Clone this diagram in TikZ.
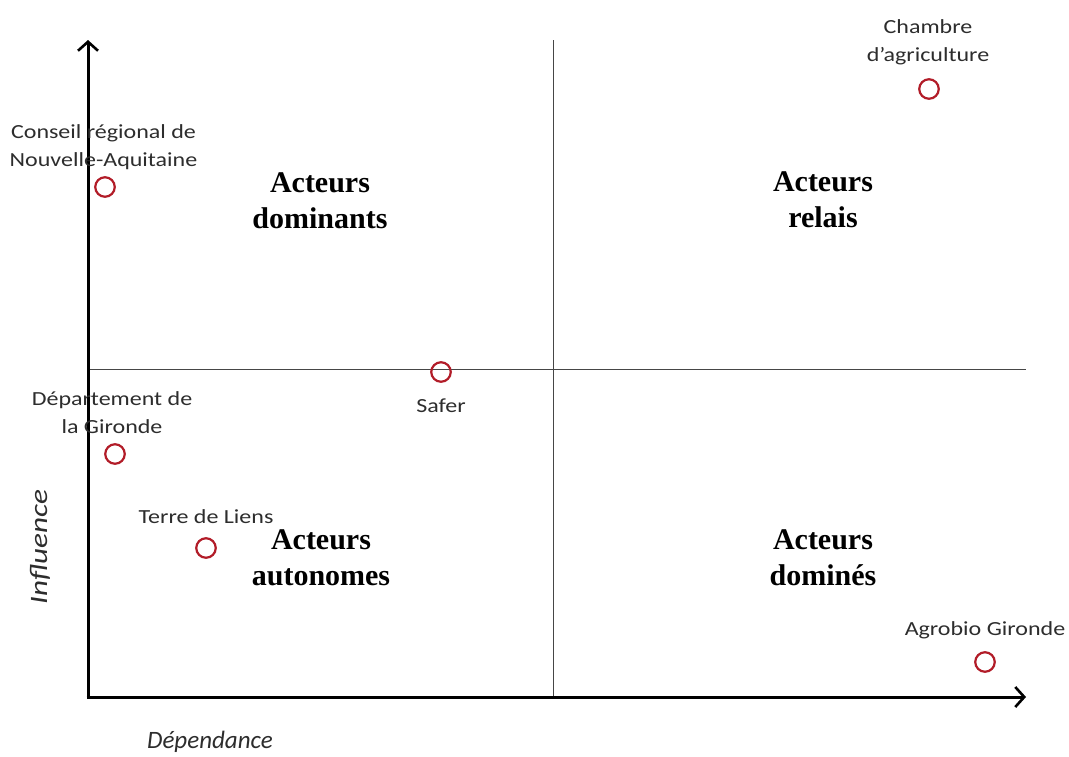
\documentclass[tikz,border=0pt]{standalone}
\usepackage{fontspec}
\setmainfont{Liberation Serif}
\newfontfamily\calfont[FakeStretch=1.2]{Carlito}
\newfontfamily\calaxis{Carlito}
\usetikzlibrary{arrows.meta}
\definecolor{dotred}{RGB}{178,28,40}
\definecolor{lblgray}{RGB}{45,45,45}
\definecolor{quadline}{RGB}{70,70,70}
\begin{document}
\begin{tikzpicture}[x=1pt,y=-1pt,
  axis/.style={line width=3pt,-{Straight Barb[length=9pt,width=20pt,line width=2.6pt]}},
  quad/.style={draw=quadline,line width=1pt},
  dot/.style={circle,draw=dotred,line width=2.2pt,minimum size=19.5pt,inner sep=0pt},
  lbl/.style={font=\calfont\fontsize{20}{28}\selectfont,text=lblgray,align=center,inner sep=0pt,anchor=base},
  big/.style={font=\bfseries\fontsize{30}{35.5}\selectfont,align=center,inner sep=0pt,anchor=base},
  axlbl/.style={font=\calaxis\itshape\fontsize{25}{27}\selectfont,text=lblgray,inner sep=0pt}]
\useasboundingbox (0,0) rectangle (1069,756);
\fill[white] (0,0) rectangle (1069,756);
\coordinate (O) at (88,697);
\coordinate (Ytop) at (88,40);
\coordinate (Xend) at (1026,697);
\coordinate (Vtop) at (553,40);
\coordinate (Vbot) at (553,697);
\coordinate (Hl) at (88,369);
\coordinate (Hr) at (1026,369);
\draw[quad] (Vtop) -- (Vbot);
\draw[quad] (Hl) -- (Hr);
\draw[axis] (88,698.5) -- (Ytop);
\draw[axis] (86.5,697) -- (Xend);
% bold quadrant labels (base = last line)
\node[big] (qdom) at (320,228) {Acteurs\\dominants};
\node[big] (qrel) at (823,227) {Acteurs\\relais};
\node[big] (qaut) at (321,585) {Acteurs\\autonomes};
\node[big] (qdmn) at (823,585) {Acteurs\\dominés};
% actors
\node[dot] (conseil) at (105,187) {};
\node[lbl] (conseilL) at (103.5,166) {Conseil régional de\\Nouvelle-Aquitaine};
\node[dot] (chambre) at (929,89) {};
\node[lbl] (chambreL) at (928,61) {Chambre\\d’agriculture};
\node[dot] (safer) at (441,372) {};
\node[lbl] (saferL) at (441,412) {Safer};
\node[dot] (dept) at (115,454) {};
\node[lbl] (deptL) at (112,433) {Département de\\la Gironde};
\node[dot] (terre) at (206,548) {};
\node[lbl] (terreL) at (206,523) {Terre de Liens};
\node[dot] (agro) at (985,662) {};
\node[lbl] (agroL) at (985,635) {Agrobio Gironde};
% axis labels
\node[axlbl,rotate=90] (infl) at (40,547) {\scalebox{1.25}[1]{Influence}};
\node[axlbl,anchor=base] (dep) at (210,748) {Dépendance};
\end{tikzpicture}
\end{document}
